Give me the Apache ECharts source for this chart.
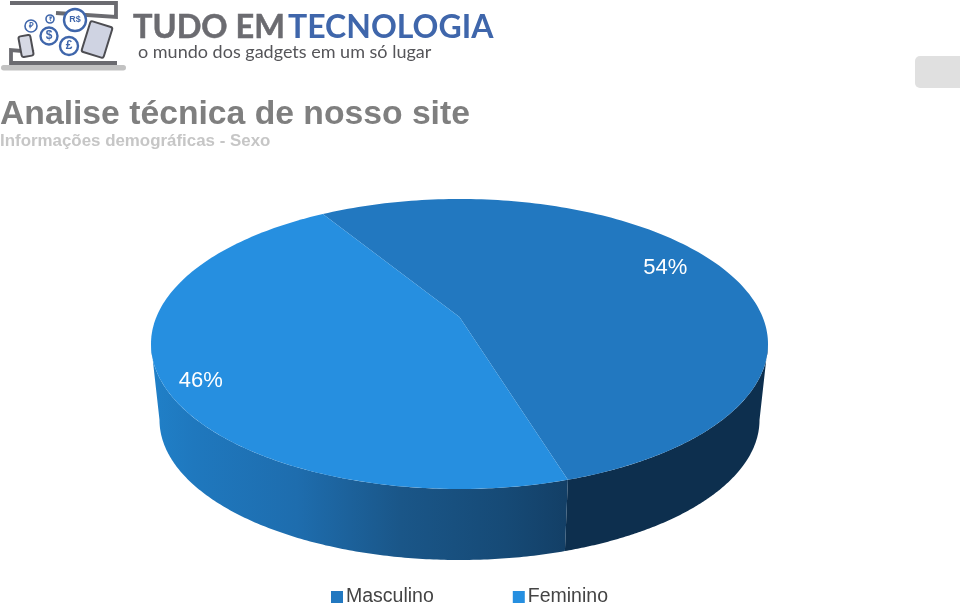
<!DOCTYPE html>
<html><head><meta charset="utf-8">
<style>html,body{margin:0;padding:0;background:#fff}#c{width:960px;height:603px}</style>
<script src="https://cdn.jsdelivr.net/npm/echarts@6/dist/echarts.min.js"></script>
</head><body><div id="c"></div>
<script>
var categories = ['Masculino', 'Feminino'];
var shares = [54, 46];
var topColors = ['#2278c0', '#268fe0'];
var titleText = 'Analise técnica de nosso site';
var subtitleText = 'Informações demográficas - Sexo';

// Drawing geometry of the tilted disc (not data)
var disc = {cx: 459.5, cy: 344, rx: 308.5, ry: 145, bottomCy: 420, bottomRx: 300, bottomRy: 140, tilt: -0.186, startDeg: -31.5};
var labelTweak = [{r: 0.79, dy: -6}, {r: 0.874, dy: 10}];
var total = shares.reduce(function (a, b) { return a + b; }, 0);

// Perspective map of a flat unit disc (polar, clockwise from the top) to the unit disc on screen
function project(deg, r) {
  var p = deg * Math.PI / 180, x = r * Math.sin(p), y = -r * Math.cos(p), k = disc.tilt;
  var d = 1 + k * y;
  return [x * Math.sqrt(1 - k * k) / d, (y + k) / d];
}
function onTop(u) { return [disc.cx + u[0] * disc.rx, disc.cy + u[1] * disc.ry]; }
function onBottom(u) { return [disc.cx + u[0] * disc.bottomRx, disc.bottomCy + u[1] * disc.bottomRy]; }
function ellipseParam(u) { return Math.atan2(u[1], u[0]); }

var wallFills = [
  '#0d2f4e',
  new echarts.graphic.LinearGradient(0, 0, 1, 0, [
    {offset: 0, color: '#2080c8'}, {offset: 0.1, color: '#1f78be'}, {offset: 0.35, color: '#1e6dae'},
    {offset: 0.6, color: '#1a5688'}, {offset: 0.85, color: '#164a76'}, {offset: 1, color: '#133f66'}])
];

function renderSlice(sliceIndex) {
  return function (params, api) {
    var before = 0;
    for (var i = 0; i < sliceIndex; i++) before += shares[i];
    var value = api.value(0);
    var a0 = disc.startDeg + before / total * 360;
    var a1 = a0 + value / total * 360;
    var steps = 160, topPts = [onTop(project(0, 0))], s;
    for (s = 0; s <= steps; s++) topPts.push(onTop(project(a0 + (a1 - a0) * s / steps, 1)));

    // visible wall: portion of the slice's rim on the lower half of the ellipse
    var lo = [], hi = [], t0 = ellipseParam(project(a0, 1)), t1 = ellipseParam(project(a1, 1));
    var from = sliceIndex === 0 ? 0 : t0, to = sliceIndex === 0 ? t1 : Math.PI;
    for (s = 0; s <= steps; s++) {
      var t = from + (to - from) * s / steps, u = [Math.cos(t), Math.sin(t)];
      hi.push(onTop(u)); lo.unshift(onBottom(u));
    }
    var mid = project((a0 + a1) / 2, labelTweak[sliceIndex].r), lp = onTop(mid);
    return {type: 'group', children: [
      {type: 'polygon', shape: {points: hi.concat(lo)}, style: {fill: wallFills[sliceIndex]}},
      {type: 'polygon', shape: {points: topPts}, style: {fill: topColors[sliceIndex]}},
      {type: 'text', x: lp[0], y: lp[1] + labelTweak[sliceIndex].dy, z2: 10, style: {
        text: Math.round(value / total * 100) + '%', fill: '#fff', align: 'center', verticalAlign: 'middle',
        fontFamily: 'Liberation Sans', fontSize: 22}}
    ]};
  };
}

var gray = '#6b6b70', blue = '#3f66ab';
function coin(x, y, r, t, fs) {
  return [
    {type: 'circle', shape: {cx: x, cy: y, r: r}, style: {fill: '#fff', stroke: blue, lineWidth: r > 7 ? 2.4 : 1.6}},
    {type: 'text', x: x, y: y, style: {text: t, fill: blue, align: 'center', verticalAlign: 'middle', fontFamily: 'Liberation Sans', fontWeight: 'bold', fontSize: fs}}
  ];
}
var logo = [
  {type: 'rect', shape: {x: 1, y: 65, width: 125, height: 5.5, r: 2.7}, style: {fill: '#c2c2c2'}},
  {type: 'polyline', shape: {points: [[10, 3], [116, 3], [116, 17], [56, 13]]}, style: {fill: 'none', stroke: gray, lineWidth: 3.8}},
  {type: 'polyline', shape: {points: [[34, 52], [11, 50], [11, 63], [117, 63]]}, style: {fill: 'none', stroke: gray, lineWidth: 3.8}},
  {type: 'rect', x: 26, y: 46, originX: 0, originY: 0, rotation: 0.18, shape: {x: -6, y: -10.5, width: 12, height: 21, r: 2}, style: {fill: '#d6d9e4', stroke: '#4d4d52', lineWidth: 2}},
  {type: 'rect', x: 97, y: 39.5, originX: 0, originY: 0, rotation: -0.3, shape: {x: -11.5, y: -16, width: 23, height: 32, r: 2}, style: {fill: '#cfd3e2', stroke: '#4d4d52', lineWidth: 2}},
  {type: 'text', x: 133, y: 28, style: {text: 'TUDO EM', fill: gray, stroke: gray, lineWidth: 0.5, verticalAlign: 'middle', fontFamily: 'Lato', fontWeight: 'bold', fontSize: 32.5}},
  {type: 'text', x: 288, y: 28, style: {text: 'TECNOLOGIA', fill: blue, verticalAlign: 'middle', fontFamily: 'Lato', fontWeight: 'bold', fontSize: 32}},
  {type: 'text', x: 138, y: 52, style: {text: 'o mundo dos gadgets em um só lugar', fill: '#555559', verticalAlign: 'middle', fontFamily: 'Lato', fontSize: 18}},
  {type: 'rect', shape: {x: 915, y: 56, width: 50, height: 32, r: 5}, style: {fill: '#e0e0e0'}}
].concat(coin(75, 20, 11, 'R$', 9), coin(31, 26, 6, '₽', 8), coin(50, 19, 4, '₹', 6), coin(49, 36, 8.5, '$', 12), coin(69, 46, 9, '£', 12));

var option = {
  backgroundColor: '#fff',
  animation: false,
  title: {
    text: titleText, subtext: subtitleText, left: 0, top: 98, padding: 0, itemGap: 1,
    textStyle: {fontFamily: 'Liberation Sans', fontWeight: 'bold', fontSize: 33.7, color: '#7f7f7f'},
    subtextStyle: {fontFamily: 'Liberation Sans', fontWeight: 'bold', fontSize: 16.9, color: '#c6c6c6'}
  },
  legend: {
    data: categories, left: 331, top: 587, padding: 0, itemGap: 79, itemWidth: 12, itemHeight: 12, icon: 'rect',
    textStyle: {fontFamily: 'Liberation Sans', fontSize: 19.5, color: '#444', padding: [0, 0, 0, -2]}
  },
  graphic: {elements: logo},
  series: categories.map(function (name, i) {
    return {
      type: 'custom', name: name, coordinateSystem: 'none', silent: true,
      itemStyle: {color: topColors[i]}, data: [[shares[i]]], renderItem: renderSlice(i)
    };
  })
};
echarts.init(document.getElementById('c'), null, {renderer: 'canvas'}).setOption(option);
</script></body></html>
